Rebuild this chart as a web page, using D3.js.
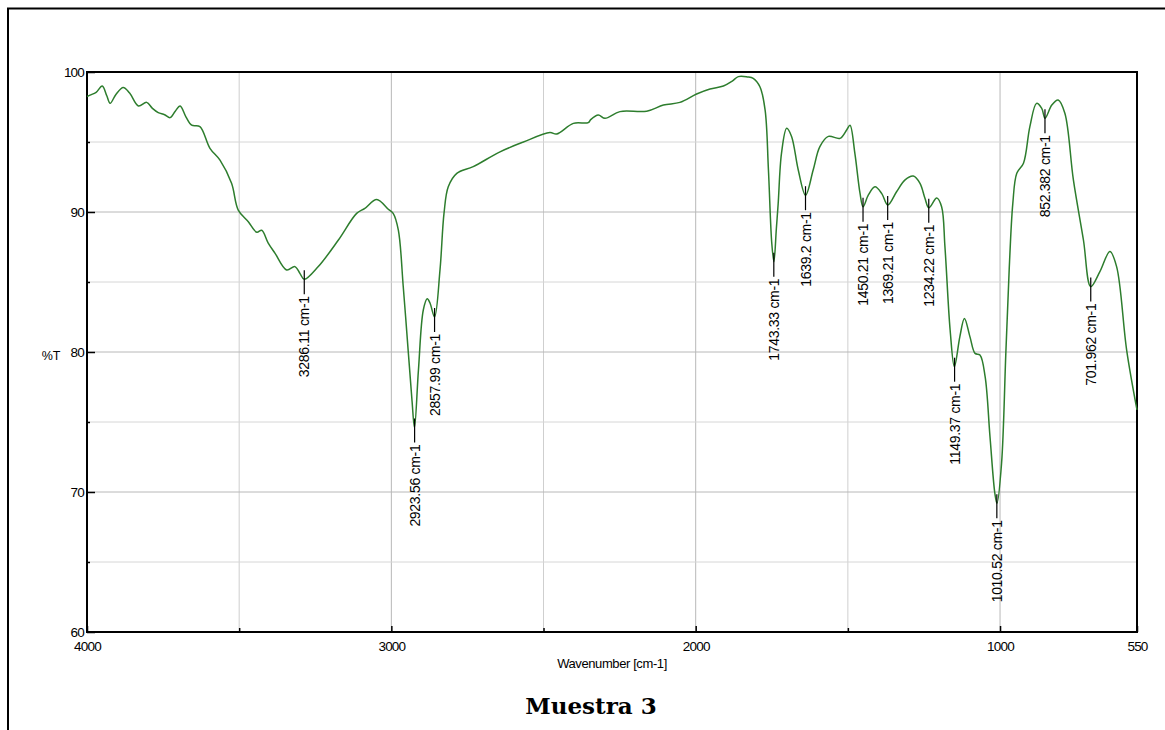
<!DOCTYPE html>
<meta charset="utf-8">
<style>
  body { margin: 0; background: #fff; }
</style>
<body>
<script src="https://cdn.jsdelivr.net/npm/d3@7"></script>
<script>
// spectrum (wavenumber cm-1, %T)
var wavenumbers = [4000, 3990, 3970, 3950, 3935, 3924, 3905, 3881, 3860, 3831, 3804, 3785, 3766, 3745, 3727,
  3710, 3694, 3675, 3656, 3629, 3596, 3563, 3525, 3503, 3470, 3442, 3426, 3405, 3382, 3344, 3317, 3300,
  3286, 3240, 3174, 3114, 3087, 3048, 3010, 2994, 2977, 2961, 2944, 2932, 2924, 2911, 2895, 2882, 2873,
  2858, 2840, 2827, 2813, 2785, 2731, 2643, 2566, 2479, 2457, 2402, 2353, 2345, 2320, 2298, 2249, 2161,
  2106, 2052, 1997, 1953, 1909, 1880, 1860, 1830, 1811, 1789, 1772, 1761, 1750, 1743, 1735, 1729, 1718,
  1701, 1685, 1663, 1639, 1614, 1592, 1564, 1526, 1504, 1493, 1477, 1460, 1450, 1433, 1411, 1389, 1369,
  1340, 1312, 1285, 1263, 1247, 1234, 1208, 1192, 1181, 1164, 1150, 1132, 1117, 1099, 1082, 1066, 1049,
  1033, 1017, 1010, 995, 981, 970, 958, 945, 923, 902, 880, 863, 852, 830, 809, 787, 759, 726, 702, 672,
  639, 617, 584, 550];
var transmittance = [98.25, 98.35, 98.55, 99.0, 98.3, 97.76, 98.4, 98.9, 98.5, 97.57, 97.83, 97.4, 97.1, 96.95, 96.74,
  97.2, 97.57, 96.8, 96.2, 96.1, 94.55, 93.7, 92.05, 90.14, 89.3, 88.55, 88.7, 87.8, 87.05, 85.86, 86.1, 85.6,
  85.19, 86.1, 88.0, 89.9, 90.26, 90.9, 90.2, 89.9, 88.7, 84.7, 79.9, 76.5, 74.6, 78.7, 83.0, 83.8, 83.5,
  82.5, 85.9, 89.9, 91.8, 92.76, 93.24, 94.3, 95.0, 95.67, 95.57, 96.33, 96.38, 96.6, 96.93, 96.69, 97.17, 97.2,
  97.64, 97.83, 98.43, 98.79, 99.0, 99.35, 99.67, 99.65, 99.55, 98.95, 97.3, 93.0, 87.76, 86.45, 88.8, 90.6, 94.2,
  95.98, 95.4, 93.0, 91.2, 93.0, 94.67, 95.4, 95.26, 95.86, 96.2, 94.19, 91.33, 90.38, 91.2, 91.8, 91.33, 90.5,
  91.45, 92.3, 92.57, 92.05, 91.0, 90.3, 91.0, 90.38, 87.5, 81.57, 78.95, 81.1, 82.4, 81.1, 79.9, 79.79, 78.24,
  73.95, 69.9, 69.19, 72.05, 79.9, 85.86, 90.62, 92.76, 93.48, 96.1, 97.76, 97.4, 96.7, 97.64, 98.0, 97.05, 92.29, 88.0, 84.67, 85.74,
  87.17, 86.1, 80.14, 75.86];

// picked peaks
var peakWn = [3286.11, 2923.56, 2857.99, 1743.33, 1639.2, 1450.21, 1369.21, 1234.22, 1149.37, 1010.52, 852.382, 701.962];
var peakT  = [85.2, 74.6, 82.5, 86.45, 91.2, 90.38, 90.5, 90.3, 78.95, 69.19, 96.7, 84.67];

var xLabelTicks = [4000, 3000, 2000, 1000, 550];
var xMinorTicks = [3500, 2500, 1500];
var yLabelTicks = [100, 90, 80, 70, 60];
var yMinorTicks = [95, 85, 75, 65];

var W = 1165, H = 730;
var plot = {left: 87, top: 72, right: 1137, bottom: 632};
var sans = "Liberation Sans, Arial, sans-serif";

var x = d3.scaleLinear().domain([4000, 550]).range([plot.left, plot.right]);
var y = d3.scaleLinear().domain([60, 100]).range([plot.bottom, plot.top]);

var svg = d3.select("body").append("svg")
    .attr("width", W)
    .attr("height", H)
    .style("font-family", sans);

// outer frame (top + left only)
svg.append("path")
    .attr("d", "M8,730 L8,8.5 L1165,8.5")
    .attr("fill", "none").attr("stroke", "#000").attr("stroke-width", 2);

// grid
var grid = svg.append("g");
grid.selectAll("line.v")
    .data(xMinorTicks.concat([3000, 2000, 1000]))
  .enter().append("line")
    .attr("x1", d => x(d)).attr("x2", d => x(d))
    .attr("y1", plot.top).attr("y2", plot.bottom)
    .attr("stroke", d => d % 1000 == 0 ? "#b8b8b8" : "#cfcfcf");
grid.selectAll("line.h")
    .data(yMinorTicks.concat([90, 80, 70]))
  .enter().append("line")
    .attr("y1", d => y(d)).attr("y2", d => y(d))
    .attr("x1", plot.left).attr("x2", plot.right)
    .attr("stroke", d => d % 10 == 0 ? "#b8b8b8" : "#d6d6d6");

// axes
var fmt = d3.format("d");
var xAxis = svg.append("g")
    .attr("transform", "translate(0," + plot.bottom + ")")
    .call(d3.axisBottom(x).tickValues(xLabelTicks).tickFormat(fmt).tickSizeInner(-6).tickSizeOuter(0).tickPadding(9));
var xMinor = svg.append("g")
    .attr("transform", "translate(0," + plot.bottom + ")")
    .call(d3.axisBottom(x).tickValues(xMinorTicks).tickSizeInner(-4).tickSizeOuter(0).tickFormat(""));
var yAxis = svg.append("g")
    .attr("transform", "translate(" + plot.left + ",0)")
    .call(d3.axisLeft(y).tickValues(yLabelTicks).tickFormat(fmt).tickSizeInner(-8).tickSizeOuter(0).tickPadding(3));
var yMinor = svg.append("g")
    .attr("transform", "translate(" + plot.left + ",0)")
    .call(d3.axisLeft(y).tickValues(yMinorTicks).tickSizeInner(-3).tickSizeOuter(0).tickFormat(""));

[xAxis, xMinor, yAxis, yMinor].forEach(function(g){
  g.select(".domain").remove();
  g.selectAll("line").attr("stroke", "#000").attr("stroke-width", 1.5);
  g.selectAll("text")
    .style("font-family", sans).style("font-size", "13.5px")
    .attr("letter-spacing", -0.8).attr("fill", "#000");
});

// plot box
svg.append("rect")
    .attr("x", plot.left).attr("y", plot.top)
    .attr("width", plot.right - plot.left).attr("height", plot.bottom - plot.top)
    .attr("fill", "none").attr("stroke", "#000").attr("stroke-width", 2);

// spectrum
var pts = wavenumbers.map((w, i) => [w, transmittance[i]]);
var line = d3.line()
    .x(d => x(d[0]))
    .y(d => y(d[1]))
    .curve(d3.curveCatmullRom.alpha(0.5));

svg.append("path")
    .datum(pts)
    .attr("d", line)
    .attr("fill", "none")
    .attr("stroke", "#2d7d2d")
    .attr("stroke-width", 1.5)
    .attr("stroke-linejoin", "round");

// peak markers + labels
var pk = svg.append("g");
peakWn.forEach(function(w, i){
  var px = x(w), py = y(peakT[i]);
  pk.append("line")
    .attr("x1", px).attr("x2", px)
    .attr("y1", py - 9).attr("y2", py + 15)
    .attr("stroke", "#000").attr("stroke-width", 1.2);
  pk.append("text")
    .attr("transform", "translate(" + px + "," + (py + 17) + ") rotate(-90)")
    .attr("text-anchor", "end")
    .attr("dy", "0.36em")
    .style("font-size", "14px")
    .attr("letter-spacing", -0.3)
    .text(w + " cm-1");
});

// axis titles
svg.append("text")
    .attr("x", 51).attr("y", 360)
    .attr("text-anchor", "middle")
    .style("font-size", "12.5px")
    .text("%T");
svg.append("text")
    .attr("x", 612).attr("y", 668)
    .attr("text-anchor", "middle")
    .style("font-size", "13px")
    .attr("letter-spacing", -0.4)
    .text("Wavenumber [cm-1]");

svg.append("text")
    .attr("x", 591).attr("y", 714)
    .attr("text-anchor", "middle")
    .style("font-family", "DejaVu Serif, serif")
    .style("font-weight", "bold")
    .style("font-size", "23px")
    .text("Muestra 3");
</script>
</body>
